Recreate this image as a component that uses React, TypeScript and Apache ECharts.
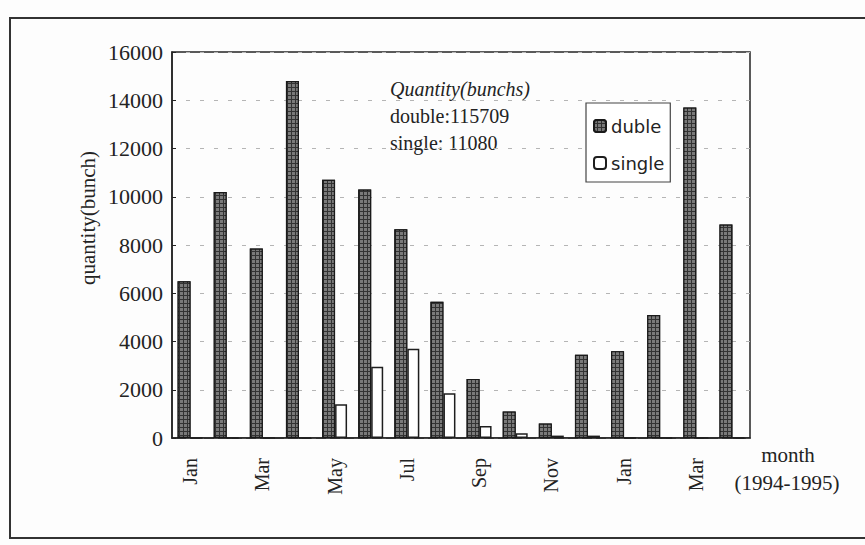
import React, { useEffect, useRef } from "react";
import * as echarts from "echarts";

const categories = [
  "Jan 1994", "Feb 1994", "Mar 1994", "Apr 1994", "May 1994", "Jun 1994",
  "Jul 1994", "Aug 1994", "Sep 1994", "Oct 1994", "Nov 1994", "Dec 1994",
  "Jan 1995", "Feb 1995", "Mar 1995", "Apr 1995",
];
const dubleValues = [6500, 10200, 7850, 14800, 10700, 10300, 8650, 5650, 2450, 1100, 600, 3450, 3600, 5100, 13700, 8850];
const singleValues = [0, 0, 0, 0, 1400, 2950, 3700, 1850, 500, 200, 100, 100, 0, 0, 0, 0];
const yTicks = { min: 0, max: 16000, interval: 2000 };
const noteLines = ["Quantity(bunchs)", "double:115709", "single: 11080"];
const axisNameY = "quantity(bunch)";
const axisNameX = ["month", "(1994-1995)"];

const SERIF = "'Liberation Serif', 'DejaVu Serif', serif";
const SANS = "'DejaVu Sans', 'Liberation Sans', sans-serif";
const INK = "#232323";

export default function App() {
  const ref = useRef<HTMLDivElement>(null);

  useEffect(() => {
    if (!ref.current) return;
    const chart = echarts.init(ref.current, null, { renderer: "svg" });
    chart.setOption({
      animation: false,
      backgroundColor: "#fdfdfd",
      grid: {
        left: 172,
        right: 115,
        top: 52,
        bottom: 107,
        show: true,
        borderColor: INK,
        borderWidth: 1.5,
        backgroundColor: "transparent",
      },
      legend: {
        orient: "vertical",
        left: 586,
        top: 103,
        padding: [14, 6, 10, 7],
        itemGap: 19,
        itemWidth: 12,
        itemHeight: 12,
        borderColor: "#444",
        borderWidth: 1.2,
        backgroundColor: "#fff",
        textStyle: { fontFamily: SANS, fontSize: 18, color: INK, padding: [0, 0, 0, 0] },
        data: ["duble", "single"],
      },
      xAxis: {
        type: "category",
        data: categories,
        axisLine: { lineStyle: { color: INK, width: 1.5 } },
        axisTick: { show: false },
        axisLabel: {
          interval: 1,
          rotate: 90,
          margin: 20,
          fontFamily: SERIF,
          fontSize: 20,
          color: INK,
          formatter: (v: string) => v.split(" ")[0],
        },
      },
      yAxis: {
        type: "value",
        min: yTicks.min,
        max: yTicks.max,
        interval: yTicks.interval,
        axisLine: { show: true, lineStyle: { color: INK, width: 1.5 } },
        axisTick: { show: true, inside: true, length: 4, lineStyle: { color: INK } },
        axisLabel: {
          fontFamily: SERIF,
          fontSize: 22,
          color: INK,
          margin: 9,
          formatter: (v: number) => String(v),
        },
        splitLine: { show: true, lineStyle: { color: "#b5b5b5", type: [4, 10], width: 1 } },
      },
      series: [
        {
          name: "duble",
          type: "bar",
          data: dubleValues,
          barWidth: 13,
          barGap: "0%",
          itemStyle: {
            color: "#333333",
            borderColor: "#1a1a1a",
            borderWidth: 1.2,
            decal: {
              symbol: "rect",
              symbolSize: 1,
              color: "#7a7a7a",
              dashArrayX: [3, 1],
              dashArrayY: [3, 1],
              rotation: 0,
            },
          },
        },
        {
          name: "single",
          type: "bar",
          data: singleValues,
          barWidth: 12,
          itemStyle: { color: "#ffffff", borderColor: "#1e1e1e", borderWidth: 1.5 },
        },
      ],
      graphic: [
        {
          type: "rect",
          shape: { x: 10, y: 18, width: 880, height: 520 },
          style: { fill: "none", stroke: "#333", lineWidth: 2 },
          silent: true,
        },
        {
          type: "text",
          x: 88,
          y: 218,
          rotation: Math.PI / 2,
          style: {
            text: axisNameY,
            fontFamily: SERIF,
            fontSize: 21,
            fill: INK,
            align: "center",
            verticalAlign: "middle",
          },
        },
        ...noteLines.map((t, i) => ({
          type: "text",
          x: 390,
          y: 89 + i * 27,
          style: {
            text: t,
            fontFamily: SERIF,
            fontSize: 20,
            fontStyle: i === 0 ? "italic" : "normal",
            fill: INK,
            align: "left",
            verticalAlign: "middle",
          },
        })),
        {
          type: "text",
          x: 788,
          y: 455,
          style: { text: axisNameX[0], fontFamily: SERIF, fontSize: 21, fill: INK, align: "center", verticalAlign: "middle" },
        },
        {
          type: "text",
          x: 787,
          y: 483,
          style: { text: axisNameX[1], fontFamily: SERIF, fontSize: 21, fill: INK, align: "center", verticalAlign: "middle" },
        },
      ],
    });
    return () => chart.dispose();
  }, []);

  return (
    <div
      ref={ref}
      style={{ position: "fixed", left: 0, top: 0, width: 865, height: 545 }}
    />
  );
}
